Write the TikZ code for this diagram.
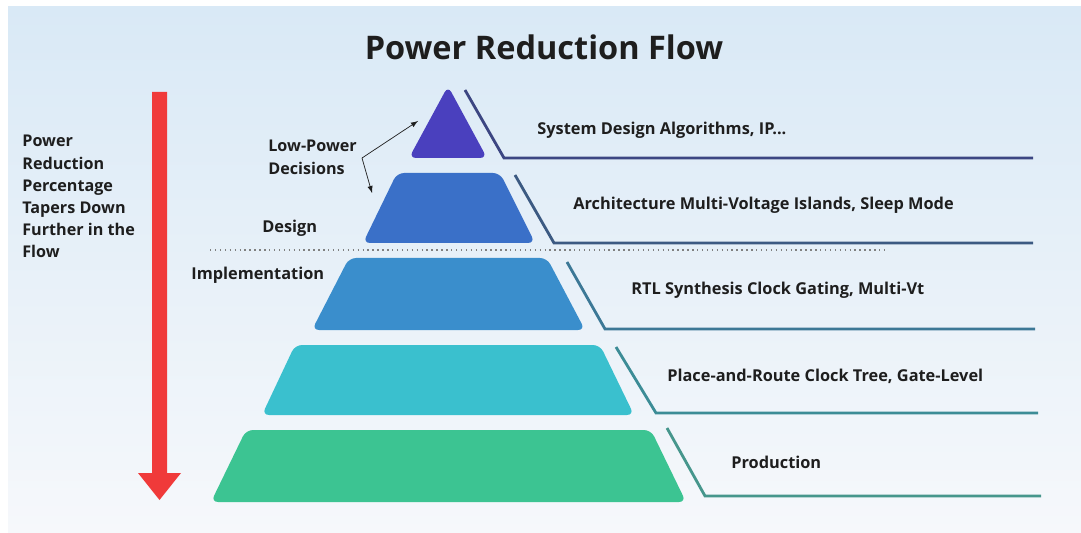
\documentclass[tikz,border=0pt]{standalone}
\usepackage{fontspec}
\setmainfont{Open Sans}

\definecolor{bgtop}{RGB}{217,233,246}
\definecolor{bgbot}{RGB}{246,248,251}
\definecolor{arrowred}{RGB}{240,58,58}
\definecolor{tierA}{RGB}{74,64,190}
\definecolor{tierB}{RGB}{58,112,200}
\definecolor{tierC}{RGB}{58,142,204}
\definecolor{tierD}{RGB}{58,192,206}
\definecolor{tierE}{RGB}{60,196,146}
\definecolor{leadA}{RGB}{60,70,130}
\definecolor{leadB}{RGB}{60,90,130}
\definecolor{leadC}{RGB}{60,120,150}
\definecolor{leadD}{RGB}{60,140,150}
\definecolor{leadE}{RGB}{70,150,140}
\definecolor{ink}{RGB}{30,30,30}

\begin{document}
\begin{tikzpicture}[x=0.02cm,y=-0.02cm,
    tier/.style={rounded corners=4pt},
    lead/.style={line width=1.6pt},
    lbl/.style={font=\bfseries\fontsize{9.3}{11}\selectfont, text=ink, anchor=west, inner sep=0pt},
    side/.style={font=\bfseries\fontsize{9.2}{12.6}\selectfont, text=ink, align=left, inner sep=0pt}]

    \useasboundingbox (0,0) rectangle (1081,533);
    \shade[top color=bgtop, bottom color=bgbot] (8,7) rectangle (1081,533);

    \node[font=\bfseries\fontsize{18.5}{20}\selectfont, text=ink] (title) at (544,47) {Power Reduction Flow};

    \fill[arrowred] (152,92) -- (167,92) -- (167,473) -- (181,473) -- (159.5,500)
        -- (138,473) -- (152,473) -- cycle;
    \node[side, anchor=north west] (pct) at (22,135)
        {Power\\Reduction\\Percentage\\Tapers Down\\Further in the\\Flow};

    \fill[tierA, tier] (448,86) -- (487,158) -- (409,158) -- cycle;
    \fill[tierB, tier] (397,173) -- (500,173) -- (535,243) -- (363,243) -- cycle;
    \fill[tierC, tier] (349,258) -- (547,258) -- (585,330) -- (312,330) -- cycle;
    \fill[tierD, tier] (295,345) -- (600,345) -- (634,415) -- (262,415) -- cycle;
    \fill[tierE, tier] (246,430) -- (651,430) -- (686,502) -- (211,502) -- cycle;

    \draw[leadA, lead] (465,90) -- (504,158) -- (1033,158);
    \draw[leadB, lead] (515,175) -- (554,243) -- (1033,243);
    \draw[leadC, lead] (567,262) -- (605,329) -- (1035,329);
    \draw[leadD, lead] (616,347) -- (656,413) -- (1038,413);
    \draw[leadE, lead] (667,428) -- (705,496) -- (1041,496);

    \draw[gray, dotted, thick] (210,250) -- (886,250);

    \node[lbl] (sys)  at (537,130) {System Design Algorithms, IP...};
    \node[lbl] (arch) at (573,205) {Architecture Multi-Voltage Islands, Sleep Mode};
    \node[lbl] (rtl)  at (631,290) {RTL Synthesis Clock Gating, Multi-Vt};
    \node[lbl] (pnr)  at (667,376) {Place-and-Route Clock Tree, Gate-Level};
    \node[lbl] (prod) at (731,462) {Production};

    \node[lbl] (impl)   at (191,275) {Implementation};
    \node[lbl] (design) at (262,228) {Design};
    \node[side, anchor=north west] (lowp) at (268,140) {Low-Power\\Decisions};

    \coordinate (knee) at (362,158);
    \coordinate (tipA) at (418,121);
    \coordinate (tipB) at (372,193);
    \draw[ink, -latex] (knee) -- (tipA);
    \draw[ink, -latex] (knee) -- (tipB);

\end{tikzpicture}
\end{document}
